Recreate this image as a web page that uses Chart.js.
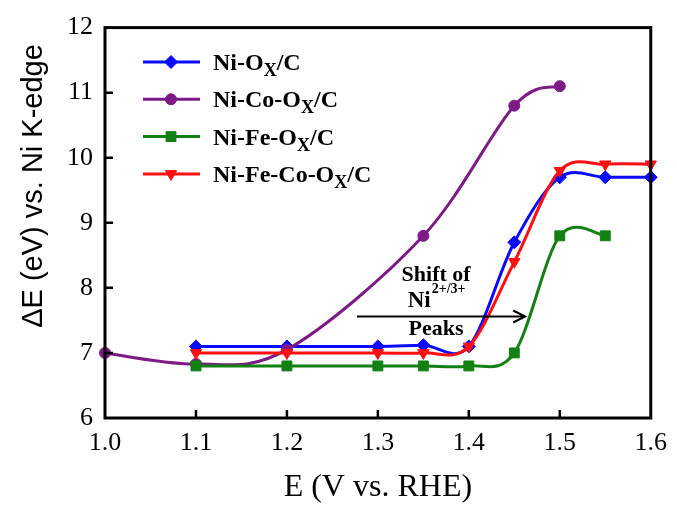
<!DOCTYPE html>
<html>
<head>
<meta charset="utf-8">
<script src="https://cdn.jsdelivr.net/npm/chart.js@4.4.1/dist/chart.umd.min.js"></script>
<style>
  html, body { margin: 0; padding: 0; background: #fff; }
  #wrap { width: 677px; height: 507px; position: relative; }
</style>
</head>
<body>
<div id="wrap"><canvas id="xanesChart"></canvas></div>
<script>
// ─── Data ─────────────────────────────────────────────────────────────────────
const NI_OX_X      = [1.1, 1.2, 1.3, 1.35, 1.4, 1.45, 1.5, 1.55, 1.6];
const NI_OX_Y      = [7.1, 7.1, 7.1, 7.12, 7.1, 8.7, 9.7, 9.7, 9.7];
const NI_CO_X      = [1.0, 1.1, 1.2, 1.35, 1.45, 1.5];
const NI_CO_Y      = [7.0, 6.83, 7.05, 8.8, 10.8, 11.1];
const NI_FE_X      = [1.1, 1.2, 1.3, 1.35, 1.4, 1.45, 1.5, 1.55];
const NI_FE_Y      = [6.8, 6.8, 6.8, 6.8, 6.8, 7.0, 8.8, 8.8];
const NI_FE_CO_X   = [1.1, 1.2, 1.3, 1.35, 1.4, 1.45, 1.5, 1.55, 1.6];
const NI_FE_CO_Y   = [7.0, 7.0, 7.0, 7.0, 7.1, 8.4, 9.8, 9.9, 9.9];

// legend names split as [before subscript, subscript, after]
const SERIES_NAMES = [
  ['Ni-O', 'X', '/C'],
  ['Ni-Co-O', 'X', '/C'],
  ['Ni-Fe-O', 'X', '/C'],
  ['Ni-Fe-Co-O', 'X', '/C']
];

const X_MIN = 1.0, X_MAX = 1.6, X_STEP = 0.1;
const Y_MIN = 6,   Y_MAX = 12,  Y_STEP = 1;

const X_TITLE = 'E (V vs. RHE)';
const Y_TITLE = 'ΔE (eV) vs. Ni K-edge';

// arrow + note, in data units
const ARROW_X = [1.277, 1.462];
const ARROW_Y = 7.56;
const NOTE_X  = 1.364;
const NOTE_Y  = [8.2, 7.8, 7.36];

// ─── Styles ──────────────────────────────────────────────────────────────────
const COLORS = ['#0a0aff', '#7d1a86', '#138013', '#ff1010'];
const SHAPES = [
  { style: 'rectRot',  radius: 6.5, rotation: 0 },
  { style: 'circle',   radius: 5.5, rotation: 0 },
  { style: 'rect',     radius: 7,   rotation: 0 },
  { style: 'triangle', radius: 6.5, rotation: 180 }
];
const SERIF = '"Liberation Serif", "Times New Roman", serif';
const SANS  = '"Liberation Sans", Arial, sans-serif';

function makeSet(i, xs, ys) {
  return {
    label: SERIES_NAMES[i].join(''),
    data: xs.map((x, k) => ({ x, y: ys[k] })),
    borderColor: COLORS[i],
    backgroundColor: COLORS[i],
    borderWidth: 3,
    tension: 0.4,
    pointStyle: SHAPES[i].style,
    pointRadius: SHAPES[i].radius,
    pointRotation: SHAPES[i].rotation,
    pointBorderWidth: 1,
    clip: false,
    order: 3 - i   // later series on top, like the original
  };
}

// ─── Spreadsheet-style smoothing (Catmull-Rom, 1/6 tangents) ─────────────────
const smoothPlugin = {
  id: 'smooth',
  beforeDatasetsDraw(chart) {
    chart.data.datasets.forEach((ds, i) => {
      const meta = chart.getDatasetMeta(i);
      const pts = meta.data;
      const n = pts.length;
      for (let k = 0; k < n; k++) {
        const p = pts[k];
        const prev = pts[Math.max(k - 1, 0)];
        const next = pts[Math.min(k + 1, n - 1)];
        const tx = (next.x - prev.x) / 6;
        const ty = (next.y - prev.y) / 6;
        p.cp1x = p.x - tx; p.cp1y = p.y - ty;
        p.cp2x = p.x + tx; p.cp2y = p.y + ty;
      }
      meta.dataset._pointsUpdated = true;
      meta.dataset._path = undefined;
    });
  }
};

// ─── Frame, inward ticks, titles, legend, annotation ─────────────────────────
const decorPlugin = {
  id: 'decor',
  afterDraw(chart) {
    const { ctx, chartArea: a, scales: { x, y } } = chart;
    ctx.save();

    // frame
    ctx.strokeStyle = '#000';
    ctx.lineWidth = 3;
    ctx.strokeRect(a.left, a.top, a.right - a.left, a.bottom - a.top);

    // inward tick marks
    ctx.lineWidth = 2.5;
    ctx.beginPath();
    x.ticks.forEach(t => {
      const px = x.getPixelForValue(t.value);
      if (px <= a.left + 2 || px >= a.right - 2) return;
      ctx.moveTo(px, a.bottom);
      ctx.lineTo(px, a.bottom - 8);
    });
    y.ticks.forEach(t => {
      const py = y.getPixelForValue(t.value);
      if (py <= a.top + 2 || py >= a.bottom - 2) return;
      ctx.moveTo(a.left, py);
      ctx.lineTo(a.left + 8, py);
    });
    ctx.stroke();

    // axis titles
    ctx.fillStyle = '#000';
    ctx.textAlign = 'center';
    ctx.textBaseline = 'middle';
    ctx.font = '32px ' + SERIF;
    ctx.fillText(X_TITLE, (a.left + a.right) / 2, 488);

    ctx.save();
    ctx.translate(34, 186);
    ctx.rotate(-Math.PI / 2);
    ctx.font = '29px ' + SANS;
    ctx.fillText(Y_TITLE, 0, 0);
    ctx.restore();

    // legend
    chart.data.datasets.forEach((ds, i) => {
      const ly = 62 + i * 37.3;
      ctx.strokeStyle = COLORS[i];
      ctx.lineWidth = 3;
      ctx.beginPath();
      ctx.moveTo(143, ly);
      ctx.lineTo(200, ly);
      ctx.stroke();
      ctx.fillStyle = COLORS[i];
      ctx.strokeStyle = COLORS[i];
      ctx.lineWidth = 1;
      Chart.helpers.drawPoint(ctx, {
        pointStyle: SHAPES[i].style,
        radius: SHAPES[i].radius,
        rotation: SHAPES[i].rotation,
        borderWidth: 1
      }, 171, ly);

      const [base, sub, tail] = SERIES_NAMES[i];
      ctx.fillStyle = '#000';
      ctx.textAlign = 'left';
      ctx.textBaseline = 'alphabetic';
      ctx.font = 'bold 24px ' + SERIF;
      let tx = 213;
      const baseY = ly + 8;
      ctx.fillText(base, tx, baseY);
      tx += ctx.measureText(base).width;
      ctx.font = 'bold 18px ' + SERIF;
      ctx.fillText(sub, tx, baseY + 6);
      tx += ctx.measureText(sub).width;
      ctx.font = 'bold 24px ' + SERIF;
      ctx.fillText(tail, tx, baseY);
    });

    // arrow
    const ax0 = x.getPixelForValue(ARROW_X[0]);
    const ax1 = x.getPixelForValue(ARROW_X[1]);
    const ay  = y.getPixelForValue(ARROW_Y);
    ctx.strokeStyle = '#000';
    ctx.lineWidth = 2;
    ctx.beginPath();
    ctx.moveTo(ax0, ay);
    ctx.lineTo(ax1, ay);
    ctx.moveTo(ax1 - 12, ay - 6);
    ctx.lineTo(ax1, ay);
    ctx.lineTo(ax1 - 12, ay + 6);
    ctx.stroke();

    // note text
    const nx = x.getPixelForValue(NOTE_X);
    ctx.fillStyle = '#000';
    ctx.textAlign = 'center';
    ctx.textBaseline = 'middle';
    ctx.font = 'bold 22px ' + SERIF;
    ctx.fillText('Shift of', nx, y.getPixelForValue(NOTE_Y[0]));
    ctx.fillText('Peaks', nx, y.getPixelForValue(NOTE_Y[2]));

    const niY = y.getPixelForValue(NOTE_Y[1]);
    ctx.font = 'bold 23px ' + SERIF;
    const wNi = ctx.measureText('Ni').width;
    ctx.font = 'bold 14px ' + SERIF;
    const wSup = ctx.measureText('2+/3+').width;
    const sx = nx - (wNi + wSup) / 2;
    ctx.textAlign = 'left';
    ctx.font = 'bold 23px ' + SERIF;
    ctx.fillText('Ni', sx, niY);
    ctx.font = 'bold 14px ' + SERIF;
    ctx.fillText('2+/3+', sx + wNi + 1, niY - 11);

    ctx.restore();
  }
};

// ─── Chart ───────────────────────────────────────────────────────────────────
new Chart(document.getElementById('xanesChart'), {
  type: 'line',
  data: {
    datasets: [
      makeSet(0, NI_OX_X, NI_OX_Y),
      makeSet(1, NI_CO_X, NI_CO_Y),
      makeSet(2, NI_FE_X, NI_FE_Y),
      makeSet(3, NI_FE_CO_X, NI_FE_CO_Y)
    ]
  },
  options: {
    responsive: true,
    maintainAspectRatio: false,
    animation: false,
    layout: { padding: { top: 22, right: 19, left: 0, bottom: 0 } },
    plugins: {
      legend: { display: false },
      tooltip: { enabled: false }
    },
    scales: {
      x: {
        type: 'linear',
        min: X_MIN, max: X_MAX,
        grid: { display: false, drawTicks: false },
        border: { display: false },
        ticks: {
          stepSize: X_STEP,
          color: '#000',
          padding: 10,
          font: { family: SERIF, size: 26 },
          callback: v => v.toFixed(1)
        },
        afterFit(scale) { scale.height = 89; }
      },
      y: {
        min: Y_MIN, max: Y_MAX,
        grid: { display: false, drawTicks: false },
        border: { display: false },
        ticks: {
          stepSize: Y_STEP,
          color: '#000',
          padding: 12,
          font: { family: SERIF, size: 26 }
        },
        afterFit(scale) { scale.width = 105; }
      }
    }
  },
  plugins: [smoothPlugin, decorPlugin]
});
</script>
</body>
</html>
